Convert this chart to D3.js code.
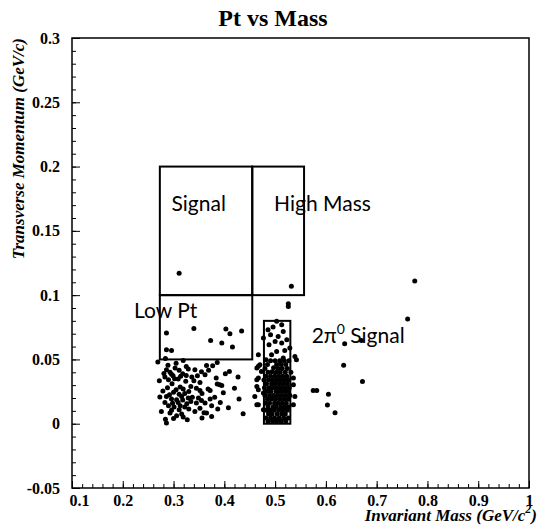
<!DOCTYPE html>
<html><head><meta charset="utf-8">
<script src="https://cdn.jsdelivr.net/npm/d3@7/dist/d3.min.js"></script>
<style>
body{margin:0;background:#fff;}
svg{display:block;}
</style></head>
<body>
<svg id="c" width="540" height="525"></svg>
<script>
const title = "Pt vs Mass";
const xTitle = "Invariant Mass (GeV/c";
const yTitle = "Transverse Momentum (GeV/c)";
const xDomain = [0.1, 1.0];
const yDomain = [-0.05, 0.3];
const xTicks = [0.1,0.2,0.3,0.4,0.5,0.6,0.7,0.8,0.9,1.0];
const xTickLabels = ["0.1","0.2","0.3","0.4","0.5","0.6","0.7","0.8","0.9","1"];
const yTicks = [-0.05,0,0.05,0.1,0.15,0.2,0.25,0.3];
const yTickLabels = ["-0.05","0","0.05","0.1","0.15","0.2","0.25","0.3"];

// region boxes: [name, mass0, mass1, pt0, pt1]
const boxes = [
  ["Signal",0.273,0.455,0.1,0.2],
  ["High Mass",0.455,0.557,0.1,0.2],
  ["Low Pt",0.273,0.455,0.05,0.1],
  ["2pi0",0.478,0.530,0.0,0.08]
];
// box labels: [text, mass, pt] (left baseline)
const boxLabels = [
  ["Signal",0.296,0.1656],
  ["High Mass",0.498,0.1656],
  ["Low Pt",0.222,0.0822],
  ["2pi0 Signal",0.572,0.0628]
];

// events [mass, pt]
const lowMassEvents = [
 [0.286,0.0705],[0.340,0.0741],[0.403,0.0736],[0.411,0.070],[0.434,0.0721],[0.373,0.0648],[0.395,0.0627],[0.416,0.0596],
 [0.286,0.0575],[0.296,0.057],[0.269,0.048],[0.284,0.0508],[0.319,0.0492],[0.365,0.0453],[0.377,0.0451],[0.386,0.0477],
 [0.286,0.042],[0.293,0.040],[0.303,0.0433],[0.311,0.0415],[0.283,0.0363],[0.290,0.0342],[0.299,0.0373],[0.309,0.0348],
 [0.318,0.0389],[0.329,0.0425],[0.342,0.042],[0.347,0.0373],[0.336,0.0363],[0.324,0.033],[0.313,0.0285],[0.305,0.0264],
 [0.319,0.027],[0.334,0.029],[0.352,0.0321],[0.352,0.0259],[0.368,0.027],[0.372,0.0259],[0.391,0.0303],[0.402,0.0389],
 [0.410,0.0407],[0.427,0.0363],[0.273,0.0208],[0.286,0.0212],[0.296,0.0192],[0.306,0.0187],[0.316,0.0212],[0.329,0.020],
 [0.334,0.0173],[0.345,0.0161],[0.355,0.0181],[0.362,0.0161],[0.372,0.0192],[0.375,0.014],[0.387,0.0114],[0.290,0.014],
 [0.301,0.013],[0.311,0.0109],[0.322,0.013],[0.293,0.0083],[0.306,0.0062],[0.319,0.0052],[0.365,0.0083],[0.375,0.0057],
 [0.286,0.0005],[0.429,0.0192],[0.437,0.0078],[0.386,0.0309],[0.395,0.0298],
 [0.281,0.039],[0.296,0.0385],[0.302,0.035],[0.314,0.037],[0.325,0.0375],[0.297,0.031],[0.288,0.028],[0.300,0.0245],
 [0.311,0.023],[0.322,0.0235],[0.330,0.025],[0.340,0.0335],[0.345,0.0275],[0.356,0.0235],[0.279,0.0255],[0.292,0.0225],
 [0.283,0.0165],[0.298,0.016],[0.309,0.0165],[0.318,0.0185],[0.326,0.0155],[0.337,0.0205],[0.349,0.020],[0.313,0.014],
 [0.296,0.0105],[0.316,0.0075],[0.300,0.004],[0.284,0.0035],[0.330,0.0115],[0.342,0.0095],[0.352,0.012],[0.360,0.0085],
 [0.381,0.0205],[0.392,0.0165],[0.398,0.024],[0.384,0.0355],[0.362,0.038],[0.355,0.0405],[0.369,0.0415],[0.289,0.0455],
 [0.305,0.047],[0.325,0.0445],[0.420,0.0275],[0.408,0.0125],[0.356,0.0045],[0.327,0.003],[0.272,0.0335],[0.276,0.0095]
];
const columnEvents = [
 [0.526,0.0933],[0.526,0.0912],
 [0.503,0.0796],[0.513,0.077],[0.486,0.0731],[0.496,0.0752],[0.516,0.0718],[0.491,0.0692],[0.506,0.0679],[0.523,0.0653],
 [0.477,0.0666],[0.500,0.064],[0.513,0.0627],[0.488,0.0614],[0.529,0.0589],[0.519,0.057],[0.539,0.0523],[0.503,0.0562],
 [0.493,0.0537],[0.516,0.0511],[0.482,0.0498],[0.470,0.0459],[0.464,0.0433],[0.542,0.0498],[0.473,0.0407],[0.467,0.0355],
 [0.536,0.0355],[0.464,0.029],[0.536,0.0303],[0.477,0.0239],[0.460,0.0212],[0.539,0.0212],[0.464,0.0148],[0.536,0.0148],
 [0.477,0.0109],[0.467,0.0537],[0.467,0.0446],[0.464,0.0342],[0.467,0.0264],[0.467,0.0148],
 [0.486,0.002],[0.495,0.002],[0.503,0.002],[0.512,0.002],[0.521,0.002],
 [0.482,0.0045],[0.491,0.0045],[0.499,0.0045],[0.508,0.0045],[0.517,0.0045],[0.526,0.0045],
 [0.487,0.0075],[0.494,0.0075],[0.504,0.0075],[0.513,0.0075],[0.520,0.0075],
 [0.483,0.0105],[0.490,0.0105],[0.498,0.0105],[0.507,0.0105],[0.515,0.0105],[0.524,0.0105],
 [0.486,0.013],[0.496,0.013],[0.502,0.013],[0.511,0.013],[0.519,0.013],[0.527,0.013],
 [0.481,0.016],[0.489,0.016],[0.499,0.016],[0.506,0.016],[0.514,0.016],[0.522,0.016],
 [0.485,0.019],[0.493,0.019],[0.501,0.019],[0.510,0.019],[0.518,0.019],[0.526,0.019],
 [0.480,0.022],[0.489,0.022],[0.497,0.022],[0.505,0.022],[0.513,0.022],[0.521,0.022],[0.529,0.022],
 [0.484,0.025],[0.492,0.025],[0.502,0.025],[0.509,0.025],[0.517,0.025],[0.525,0.025],
 [0.479,0.028],[0.488,0.028],[0.496,0.028],[0.504,0.028],[0.512,0.028],[0.520,0.028],[0.528,0.028],
 [0.483,0.031],[0.493,0.031],[0.500,0.031],[0.508,0.031],[0.516,0.031],[0.524,0.031],
 [0.478,0.034],[0.487,0.034],[0.495,0.034],[0.503,0.034],[0.511,0.034],[0.519,0.034],[0.527,0.034],
 [0.482,0.037],[0.491,0.037],[0.499,0.037],[0.507,0.037],[0.515,0.037],[0.523,0.037],
 [0.486,0.040],[0.494,0.0405],[0.502,0.040],[0.510,0.040],[0.520,0.040],[0.531,0.040],
 [0.480,0.043],[0.497,0.0435],[0.506,0.043],[0.514,0.043],[0.524,0.043],
 [0.485,0.046],[0.503,0.046],[0.512,0.046],[0.521,0.046],
 [0.491,0.049],[0.500,0.049],[0.509,0.049],[0.518,0.049],[0.527,0.049]
];
const scatterEvents = [
 [0.311,0.117],[0.532,0.107],[0.775,0.111],[0.761,0.0814],[0.637,0.0622],[0.670,0.0648],[0.635,0.0454],
 [0.672,0.0329],[0.575,0.0259],[0.582,0.0259],[0.605,0.023],[0.603,0.0145],[0.618,0.0086]
];

const L = 72, R = 529, T = 38, B = 488;
const svg = d3.select("#c");
const x = d3.scaleLinear().domain(xDomain).range([L, R]);
const y = d3.scaleLinear().domain(yDomain).range([B, T]);

const serif = "'Liberation Serif','DejaVu Serif',serif";

// minor ticks
const xMinor = d3.range(0, 46).map(i => +(0.1 + i*0.02).toFixed(3)).filter(v => v <= 1.0001);
const yMinor = d3.range(0, 36).map(i => +(-0.05 + i*0.01).toFixed(3)).filter(v => v <= 0.3001);

const gx = svg.append("g").attr("transform", `translate(0,${B})`);
gx.call(d3.axisBottom(x).tickValues(xMinor).tickSize(-4).tickFormat(""));
gx.call(g => g.select(".domain").remove());
const gx2 = svg.append("g").attr("transform", `translate(0,${B})`);
gx2.call(d3.axisBottom(x).tickValues(xTicks).tickSize(-7).tickPadding(7)
  .tickFormat((d,i) => xTickLabels[i]));
gx2.select(".domain").remove();
gx2.selectAll("text").attr("font-family", serif).attr("font-weight","bold").attr("font-size","16px").attr("fill","#000");
gx2.selectAll(".tick").filter((d,i)=>i===0).select("text").attr("dx", 7);

const gy = svg.append("g").attr("transform", `translate(${L},0)`);
gy.call(d3.axisLeft(y).tickValues(yMinor).tickSize(-4).tickFormat(""));
gy.select(".domain").remove();
const gy2 = svg.append("g").attr("transform", `translate(${L},0)`);
gy2.call(d3.axisLeft(y).tickValues(yTicks).tickSize(-8).tickPadding(12)
  .tickFormat((d,i) => yTickLabels[i]));
gy2.select(".domain").remove();
gy2.selectAll("text").attr("font-family", serif).attr("font-weight","bold").attr("font-size","16px").attr("fill","#000");
svg.selectAll(".tick line").attr("stroke","#000").attr("stroke-width",1);

// frame
svg.append("rect").attr("x", L).attr("y", T).attr("width", R-L).attr("height", B-T)
  .attr("fill","none").attr("stroke","#000").attr("stroke-width",1.5);

// boxes
svg.append("g").selectAll("rect").data(boxes).join("rect")
  .attr("x", d => x(d[1])).attr("y", d => y(d[4]))
  .attr("width", d => x(d[2]) - x(d[1])).attr("height", d => y(d[3]) - y(d[4]))
  .attr("fill","none").attr("stroke","#000").attr("stroke-width",2);

// points
const allEvents = lowMassEvents.concat(columnEvents, scatterEvents);
svg.append("g").selectAll("circle").data(allEvents).join("circle")
  .attr("cx", d => x(d[0])).attr("cy", d => y(d[1])).attr("r", 2.5).attr("fill","#000");

// box labels
const sans = "Lato,'Open Sans',sans-serif";
boxLabels.forEach(([t, m, p]) => {
  const tx = svg.append("text").attr("x", x(m)).attr("y", y(p))
    .attr("font-family", sans).attr("font-size","21px").attr("fill","#000");
  if (t.startsWith("2pi0")) {
    tx.append("tspan").text("2\u03C0");
    tx.append("tspan").text("0").attr("font-size","14px").attr("dy",-9);
    tx.append("tspan").text(" Signal").attr("dy",9);
  } else tx.text(t);
});

// title
svg.append("text").attr("x", 273).attr("y", 26).attr("text-anchor","middle")
  .attr("font-family", serif).attr("font-weight","bold").attr("font-size","24px").text(title);

// x title
const xt = svg.append("text").attr("x", 537).attr("y", 521).attr("text-anchor","end")
  .attr("font-family", serif).attr("font-weight","bold").attr("font-style","italic").attr("font-size","17px");
xt.append("tspan").text(xTitle);
xt.append("tspan").text("2").attr("font-size","12px").attr("dy",-8);
xt.append("tspan").text(")").attr("dy",8);

// y title
svg.append("text").attr("transform", `translate(24,${T}) rotate(-90)`).attr("text-anchor","end")
  .attr("font-family", serif).attr("font-weight","bold").attr("font-style","italic").attr("font-size","17px")
  .text(yTitle);
</script>
</body></html>
